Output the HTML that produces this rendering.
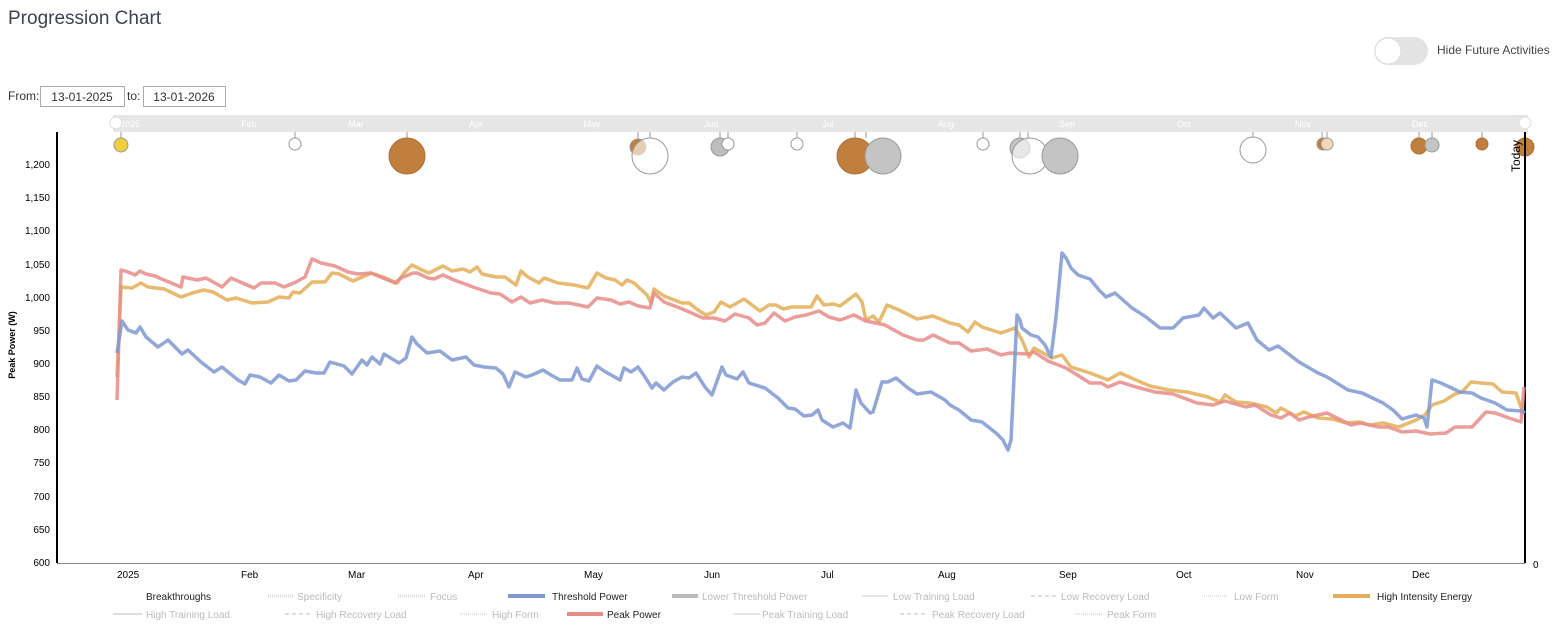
<!DOCTYPE html>
<html><head><meta charset="utf-8"><style>
html,body{margin:0;padding:0;background:#fff;width:1558px;height:641px;overflow:hidden;font-family:"Liberation Sans",sans-serif}
</style></head><body>
<svg width="1558" height="641" xmlns="http://www.w3.org/2000/svg" font-family="Liberation Sans, sans-serif">
<text x="8" y="24" font-size="19" fill="#3d4450">Progression Chart</text>
<rect x="1374" y="37" width="54" height="28" rx="14" fill="#e3e3e3"/>
<circle cx="1388" cy="51" r="13" fill="#fff" stroke="#ddd"/>
<text x="1437" y="54" font-size="12" fill="#444">Hide Future Activities</text>
<text x="8" y="100" font-size="12" fill="#333">From:</text>
<rect x="40.5" y="86.5" width="84" height="20" fill="#fff" stroke="#aaa"/>
<text x="82" y="101" font-size="12" fill="#333" text-anchor="middle">13-01-2025</text>
<text x="127" y="100" font-size="12" fill="#333">to:</text>
<rect x="143.5" y="86.5" width="82" height="20" fill="#fff" stroke="#aaa"/>
<text x="184" y="101" font-size="12" fill="#333" text-anchor="middle">13-01-2026</text>
<!-- nav bar -->
<rect x="113" y="115" width="1415" height="17" fill="#e6e6e6"/>
<g font-size="9" fill="#fff" text-anchor="middle">
<text x="130" y="127">2025</text><text x="249" y="127">Feb</text><text x="356" y="127">Mar</text><text x="476" y="127">Apr</text><text x="592" y="127">May</text><text x="711" y="127">Jun</text><text x="828" y="127">Jul</text><text x="946" y="127">Aug</text><text x="1067" y="127">Sep</text><text x="1184" y="127">Oct</text><text x="1303" y="127">Nov</text><text x="1420" y="127">Dec</text></g>
<circle cx="116" cy="123" r="6" fill="#fff" stroke="#ddd"/><circle cx="1525" cy="123" r="6" fill="#fff" stroke="#ddd"/>
<!-- stems -->
<g stroke="#999" stroke-width="1">
<path d="M121 132V138M295 132V138M407 132V138M638 132V139M650 132V138M720 132V138M728 132V138M797 132V138M855 132V138M866 132V138M983 132V138M1020 132V138M1028 132V138M1253 132V137M1322 132V138M1327 132V138M1419 132V138M1432 132V138M1482 132V138"/></g>
<!-- bubbles -->
<g stroke="#999" stroke-width="1">
<circle cx="121" cy="145" r="7" fill="#f0cf3c"/>
<circle cx="295" cy="144" r="6" fill="#fff"/>
<circle cx="407" cy="156" r="18" fill="#c07f3e" stroke="#b07030"/>
<circle cx="638" cy="147" r="8" fill="#c07f3e"/>
<circle cx="650" cy="156" r="18" fill="#fff" fill-opacity="0.6"/>
<circle cx="720" cy="147" r="9" fill="#bdbdbd"/>
<circle cx="728" cy="144" r="6" fill="#fff"/>
<circle cx="797" cy="144" r="6" fill="#fff"/>
<circle cx="855" cy="156" r="18" fill="#c07f3e" stroke="#b07030"/>
<circle cx="883" cy="156" r="18" fill="#c4c4c4"/>
<circle cx="983" cy="144" r="6" fill="#fff"/>
<circle cx="1020" cy="148" r="10" fill="#c4c4c4"/>
<circle cx="1030" cy="156" r="18" fill="#fff" fill-opacity="0.6"/>
<circle cx="1060" cy="156" r="18" fill="#c4c4c4"/>
<circle cx="1253" cy="150" r="13" fill="#fff"/>
<circle cx="1323" cy="144" r="6" fill="#c07f3e"/>
<circle cx="1327" cy="144" r="6" fill="#f3d8bd"/>
<circle cx="1419" cy="146" r="8" fill="#c07f3e" stroke="#b07030"/>
<circle cx="1432" cy="145" r="7" fill="#c4c4c4"/>
<circle cx="1482" cy="144" r="6" fill="#c07f3e" stroke="#b07030"/>
<circle cx="1525" cy="147" r="9" fill="#c07f3e" stroke="#b07030"/>
</g>
<!-- axes -->
<line x1="57" y1="132" x2="57" y2="563" stroke="#000" stroke-width="2"/>
<line x1="57" y1="563.5" x2="1525" y2="563.5" stroke="#888" stroke-width="1"/>
<line x1="1525" y1="132" x2="1525" y2="563" stroke="#000" stroke-width="2"/>
<text x="1533" y="568" font-size="10">0</text>
<text transform="translate(1520,172) rotate(-90)" font-size="12">Today</text>
<g font-size="10" text-anchor="end" fill="#000">
<text x="50" y="168">1,200</text><text x="50" y="201">1,150</text><text x="50" y="234">1,100</text><text x="50" y="268">1,050</text><text x="50" y="301">1,000</text><text x="50" y="334">950</text><text x="50" y="367">900</text><text x="50" y="400">850</text><text x="50" y="433">800</text><text x="50" y="466">750</text><text x="50" y="500">700</text><text x="50" y="533">650</text><text x="50" y="566">600</text></g>
<text transform="translate(15,345) rotate(-90)" font-size="9" font-weight="bold" text-anchor="middle">Peak Power (W)</text>
<g font-size="10" fill="#000">
<text x="117" y="578">2025</text><text x="241" y="578">Feb</text><text x="348" y="578">Mar</text><text x="468" y="578">Apr</text><text x="584" y="578">May</text><text x="704" y="578">Jun</text><text x="821" y="578">Jul</text><text x="938" y="578">Aug</text><text x="1059" y="578">Sep</text><text x="1176" y="578">Oct</text><text x="1296" y="578">Nov</text><text x="1412" y="578">Dec</text></g>
<!-- series -->
<g fill="none" stroke-width="3.5" stroke-linejoin="round" stroke-opacity="0.85">
<polyline stroke="#e4ae56" points="117,377 121,287 132,288 141,283 148,287 164,289 181,297 192,293 204,290 213,292 227,300 236,298 252,303 268,302 279,297 289,298 293,292 300,293 312,282 325,282 332,273 339,274 353,281 367,275 371,273 383,277 397,283 404,273 412,265 422,270 429,273 443,266 452,271 463,269 470,272 477,267 482,274 496,277 505,277 516,285 521,271 528,277 539,283 544,278 558,283 574,285 588,288 597,273 606,278 615,280 622,285 627,280 634,283 647,295 651,303 654,289 664,296 682,303 689,303 698,310 706,315 714,312 721,302 730,307 744,299 760,311 769,305 776,305 783,309 792,307 811,307 817,296 824,305 833,304 840,306 856,294 862,302 866,320 873,316 879,322 887,305 899,310 917,319 933,316 950,323 959,325 968,332 975,322 982,327 1001,333 1015,328 1022,340 1029,357 1034,348 1043,353 1052,358 1062,355 1071,367 1090,373 1108,380 1120,373 1136,380 1150,386 1169,390 1187,392 1208,397 1220,402 1225,395 1236,402 1250,403 1267,407 1276,413 1281,408 1295,416 1304,412 1318,418 1332,419 1346,423 1360,422 1369,425 1383,423 1399,427 1416,420 1425,415 1432,405 1444,401 1455,394 1462,392 1471,382 1481,383 1493,384 1502,392 1516,393 1522,410 1524,413"/>
<polyline stroke="#e88c88" points="117,400 121,270 128,272 135,275 140,271 146,274 155,276 164,280 181,287 183,277 197,280 206,278 222,287 231,278 254,288 261,283 275,283 284,287 296,282 305,277 312,259 321,263 335,266 348,272 358,274 371,273 383,278 395,283 401,278 413,273 417,273 428,278 434,279 443,275 454,280 473,287 482,290 491,293 500,294 512,302 521,297 530,303 542,300 555,303 569,303 588,307 597,298 611,300 620,304 629,302 638,306 650,308 654,293 664,302 680,308 703,318 714,318 725,321 735,314 749,318 757,325 765,323 774,313 785,321 795,317 806,315 819,311 829,317 840,320 854,315 866,321 885,325 903,335 917,340 924,340 933,335 950,343 959,343 971,351 987,349 1001,355 1010,353 1029,354 1034,352 1048,361 1066,368 1090,383 1101,383 1108,387 1120,382 1136,387 1155,392 1173,394 1197,403 1213,405 1225,401 1246,407 1255,405 1271,415 1281,418 1290,413 1299,420 1309,417 1318,415 1327,413 1337,418 1351,425 1360,423 1379,427 1388,427 1402,432 1416,431 1430,434 1446,433 1455,427 1472,427 1486,412 1495,413 1509,418 1521,422 1524,387"/>
<polyline stroke="#7f98d2" points="117,353 122,321 128,330 136,333 140,327 146,337 158,347 168,340 182,354 188,350 201,362 214,372 222,367 238,380 245,384 250,375 260,377 271,383 279,375 289,381 296,380 305,371 316,373 324,373 330,362 344,366 352,374 362,360 367,365 372,357 380,364 384,354 399,363 406,358 412,337 417,344 427,353 440,351 452,360 466,357 474,365 484,367 496,368 503,374 509,387 515,372 526,377 532,375 543,370 551,375 560,380 572,380 577,368 582,379 589,381 597,366 604,371 620,380 624,368 631,372 638,367 645,377 652,388 656,383 664,390 673,382 682,377 689,378 696,373 705,387 712,395 722,367 726,375 737,379 743,372 749,383 765,388 778,398 788,408 795,409 804,416 812,415 818,410 822,420 833,427 843,423 850,428 856,390 861,403 870,413 873,412 882,382 888,382 896,378 908,388 917,394 931,392 945,400 950,405 959,410 971,420 982,422 996,433 1003,440 1008,450 1011,440 1017,315 1020,320 1022,328 1031,335 1038,337 1045,345 1051,357 1056,317 1062,253 1066,258 1071,268 1078,275 1090,279 1099,290 1106,297 1115,293 1132,308 1146,317 1160,328 1173,328 1183,318 1199,315 1204,308 1213,318 1220,313 1236,328 1248,323 1257,340 1269,350 1278,346 1299,362 1318,373 1327,377 1348,390 1362,393 1383,403 1393,410 1402,419 1416,415 1424,418 1427,427 1432,380 1441,383 1460,392 1472,393 1481,398 1495,403 1507,410 1521,411 1525,413"/>
</g>
<!-- legend -->
<g font-size="10" fill="#bbb">
<text x="146" y="600" fill="#222">Breakthroughs</text>
<line x1="268" y1="596" x2="294" y2="596" stroke="#ddd" stroke-width="3" stroke-dasharray="1,1"/><text x="297" y="600">Specificity</text>
<line x1="398" y1="596" x2="425" y2="596" stroke="#ddd" stroke-width="3" stroke-dasharray="1,1"/><text x="430" y="600">Focus</text>
<line x1="508" y1="596" x2="545" y2="596" stroke="#7f98d2" stroke-width="4"/><text x="552" y="600" fill="#222">Threshold Power</text>
<line x1="672" y1="596" x2="698" y2="596" stroke="#bbb" stroke-width="4"/><text x="702" y="600">Lower Threshold Power</text>
<line x1="862" y1="596" x2="888" y2="596" stroke="#e5e5e5" stroke-width="2"/><text x="893" y="600">Low Training Load</text>
<line x1="1031" y1="596" x2="1057" y2="596" stroke="#ddd" stroke-width="2" stroke-dasharray="4,3"/><text x="1061" y="600">Low Recovery Load</text>
<line x1="1202" y1="596" x2="1228" y2="596" stroke="#e5e5e5" stroke-width="2" stroke-dasharray="1,1"/><text x="1234" y="600">Low Form</text>
<line x1="1333" y1="596" x2="1370" y2="596" stroke="#e4ae56" stroke-width="4"/><text x="1377" y="600" fill="#222">High Intensity Energy</text>
<line x1="113" y1="614" x2="142" y2="614" stroke="#ddd" stroke-width="2"/><text x="146" y="618">High Training Load</text>
<line x1="285" y1="614" x2="312" y2="614" stroke="#ddd" stroke-width="2" stroke-dasharray="4,3"/><text x="316" y="618">High Recovery Load</text>
<line x1="460" y1="614" x2="488" y2="614" stroke="#e0e0e0" stroke-width="2" stroke-dasharray="1,1"/><text x="492" y="618">High Form</text>
<line x1="567" y1="614" x2="603" y2="614" stroke="#e88c88" stroke-width="4"/><text x="607" y="618" fill="#222">Peak Power</text>
<line x1="733" y1="614" x2="760" y2="614" stroke="#e5e5e5" stroke-width="2"/><text x="762" y="618">Peak Training Load</text>
<line x1="900" y1="614" x2="928" y2="614" stroke="#ddd" stroke-width="2" stroke-dasharray="4,3"/><text x="932" y="618">Peak Recovery Load</text>
<line x1="1075" y1="614" x2="1103" y2="614" stroke="#e0e0e0" stroke-width="2" stroke-dasharray="1,1"/><text x="1107" y="618">Peak Form</text>
</g>
</svg>
</body></html>
